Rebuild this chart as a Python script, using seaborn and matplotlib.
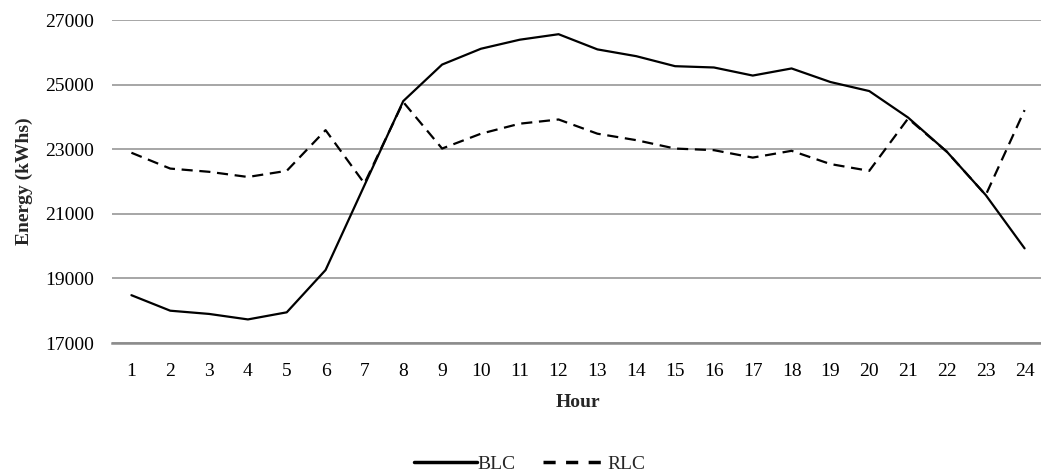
import matplotlib
matplotlib.use("Agg")
import matplotlib.pyplot as plt
import numpy as np
import pandas as pd
import seaborn as sns

# DATA
hours = list(range(1, 25))
blc = [18480, 18000, 17900, 17730, 17950, 19260, 21880, 24490, 25620, 26110, 26390, 26560,
       26090, 25880, 25570, 25530, 25280, 25500, 25080, 24800, 23980, 22920, 21580, 19930]
rlc = [22890, 22400, 22300, 22140, 22330, 23590, 21940, 24460, 23020, 23480, 23790, 23920,
       23480, 23280, 23020, 22970, 22740, 22950, 22540, 22330, 23950, 22920, 21580, 24210]
y_ticks = [17000, 19000, 21000, 23000, 25000, 27000]

df = pd.DataFrame({
    "Hour": hours * 2,
    "Energy": blc + rlc,
    "Series": ["BLC"] * 24 + ["RLC"] * 24,
})

sns.set_theme(style="white")
plt.rcParams["font.family"] = ["Liberation Serif", "DejaVu Serif"]

fig = plt.figure(figsize=(10.41, 4.73), dpi=100)
ax = fig.add_axes([112 / 1041, 1 - 343 / 473, 932 / 1041, 323 / 473])

sns.lineplot(data=df, x="Hour", y="Energy", style="Series", color="black",
             dashes={"BLC": "", "RLC": (5, 3)}, linewidth=1.6, ax=ax)

ax.set_xlim(0.5, 24.5)
ax.set_ylim(17000, 27000)
ax.set_xticks(hours)
ax.set_yticks(y_ticks)
ax.tick_params(axis="both", length=0, labelsize=14, colors="black")
ax.tick_params(axis="x", pad=14.5)
ax.tick_params(axis="y", pad=13)

ax.grid(axis="y", color="#a6a6a6", linewidth=1.4)
ax.set_axisbelow(True)
for s in ["top", "right", "left"]:
    ax.spines[s].set_visible(False)
ax.spines["bottom"].set_color("#8c8c8c")
ax.spines["bottom"].set_linewidth(1.8)

ax.set_xlabel("Hour", fontsize=14, fontweight="bold", labelpad=10)
ax.set_ylabel("Energy (kWhs)", fontsize=14, fontweight="bold", labelpad=8.5)

handles, labels = ax.get_legend_handles_labels()
leg = ax.legend(handles, labels, loc="center", bbox_to_anchor=(0.448, -0.375),
                ncol=2, frameon=False, fontsize=14, handlelength=3.25,
                handletextpad=0.05, columnspacing=1.4)
for line in leg.get_lines():
    line.set_linewidth(2.5)
leg.get_lines()[1].set_dashes((3.5, 3))

fig.savefig("out.png", dpi=100)
